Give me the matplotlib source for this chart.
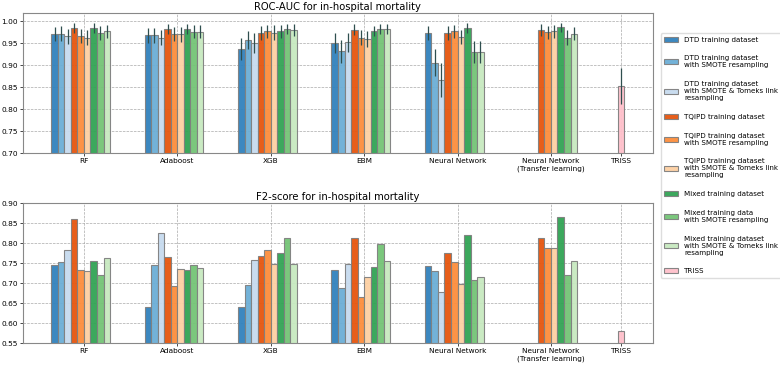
import numpy as np
import matplotlib
matplotlib.use('Agg')
import matplotlib.pyplot as plt

#-------------------------------------------------------------------
# ROC-AUC and F2-score per model / training dataset
#-------------------------------------------------------------------
models = ['RF', 'Adaboost', 'XGB', 'EBM', 'Neural Network',
          'Neural Network\n(Transfer learning)', 'TRISS']
model_pos = [0, 1, 2, 3, 4, 5, 5.75]

series = ['DTD training dataset',
          'DTD training dataset\nwith SMOTE resampling',
          'DTD training dataset\nwith SMOTE & Tomeks link\nresampling',
          'TQIPD training dataset',
          'TQIPD training dataset\nwith SMOTE resampling',
          'TQIPD training dataset\nwith SMOTE & Tomeks link\nresampling',
          'Mixed training dataset',
          'Mixed training data\nwith SMOTE resampling',
          'Mixed training dataset\nwith SMOTE & Tomeks link\nresampling']
colors = ['#3182bd', '#6baed6', '#c6dbef', '#e6550d', '#fd8d3c', '#fdd0a2',
          '#31a354', '#74c476', '#c7e9c0']

# rows = models (RF..NN TL), cols = series; nan = not trained
auc = np.array([
    [0.971, 0.971, 0.966, 0.984, 0.967, 0.963, 0.984, 0.973, 0.977],
    [0.968, 0.968, 0.963, 0.982, 0.970, 0.970, 0.982, 0.976, 0.976],
    [0.936, 0.958, 0.950, 0.974, 0.977, 0.974, 0.977, 0.983, 0.980],
    [0.950, 0.932, 0.952, 0.981, 0.963, 0.959, 0.978, 0.982, 0.983],
    [0.974, 0.906, 0.866, 0.974, 0.977, 0.964, 0.985, 0.930, 0.930],
    [np.nan, np.nan, np.nan, 0.980, 0.975, 0.977, 0.986, 0.963, 0.972],
])
auc_err = np.array([
    [0.016, 0.017, 0.017, 0.011, 0.016, 0.017, 0.011, 0.016, 0.014],
    [0.017, 0.017, 0.017, 0.011, 0.016, 0.017, 0.011, 0.015, 0.015],
    [0.025, 0.020, 0.023, 0.016, 0.015, 0.017, 0.014, 0.011, 0.014],
    [0.023, 0.026, 0.021, 0.012, 0.018, 0.018, 0.012, 0.011, 0.011],
    [0.016, 0.030, 0.038, 0.016, 0.015, 0.016, 0.011, 0.026, 0.026],
    [np.nan, np.nan, np.nan, 0.013, 0.015, 0.014, 0.011, 0.018, 0.015],
])
f2 = np.array([
    [0.745, 0.752, 0.782, 0.860, 0.733, 0.731, 0.755, 0.720, 0.762],
    [0.641, 0.745, 0.825, 0.765, 0.692, 0.735, 0.732, 0.745, 0.737],
    [0.641, 0.696, 0.758, 0.768, 0.782, 0.747, 0.775, 0.812, 0.749],
    [0.732, 0.689, 0.749, 0.812, 0.665, 0.715, 0.740, 0.799, 0.755],
    [0.744, 0.731, 0.677, 0.775, 0.752, 0.697, 0.820, 0.709, 0.715],
    [np.nan, np.nan, np.nan, 0.813, 0.787, 0.789, 0.866, 0.720, 0.755],
])
triss_auc = 0.853
triss_auc_err = 0.041
triss_f2 = 0.581

w = 0.07
plt.rcParams['font.size'] = 5.3
fig = plt.figure(figsize=(7.8, 3.65), dpi=100)
ax1 = fig.add_axes([0.029, 0.58, 0.808, 0.3836])
ax2 = fig.add_axes([0.029, 0.0595, 0.808, 0.3836])

for ax, vals, errs, tv, te, ttl, lim in [
        (ax1, auc, auc_err, triss_auc, triss_auc_err, 'ROC-AUC for in-hospital mortality', (0.70, 1.018)),
        (ax2, f2, None, triss_f2, None, 'F2-score for in-hospital mortality', (0.55, 0.90))]:
    for i in range(len(series)):
        x = np.array(model_pos[:6]) + (i - 4.5) * w
        ok = ~np.isnan(vals[:, i])
        ax.bar(x[ok], vals[ok, i], width=w, color=colors[i], alpha=0.95,
               edgecolor='grey', linewidth=0.8, label=series[i],
               yerr=None if errs is None else errs[ok, i],
               error_kw=dict(ecolor='#2f4f4f', elinewidth=0.9))
    ax.bar([model_pos[6]], [tv], width=w, color='pink', alpha=0.95,
           edgecolor='grey', linewidth=0.8, label='TRISS',
           yerr=None if te is None else [te],
           error_kw=dict(ecolor='#2f4f4f', elinewidth=0.9))
    ax.set_ylim(*lim)
    ax.set_xticks(model_pos)
    ax.set_xticklabels(models)
    ax.set_axisbelow(True)
    ax.grid(True, linestyle='--', color='#aaaaaa', linewidth=0.5)
    ax.set_title(ttl, fontsize=7.2, pad=2.5)
    ax.tick_params(length=2, width=0.5, pad=1.5)
    for s in ax.spines.values():
        s.set_color('#888888')
        s.set_linewidth(0.8)

ax1.set_yticks(np.arange(0.70, 1.001, 0.05))
ax2.set_yticks(np.arange(0.55, 0.901, 0.05))

h, l = ax1.get_legend_handles_labels()
fig.legend(h, l, loc='upper left', bbox_to_anchor=(0.8427, 0.918),
           fontsize=5.1, labelspacing=1.8, handlelength=2.0, handleheight=0.7,
           borderpad=0.45, handletextpad=0.85, framealpha=1, edgecolor='#dddddd')

fig.savefig('out.png', dpi=100)
